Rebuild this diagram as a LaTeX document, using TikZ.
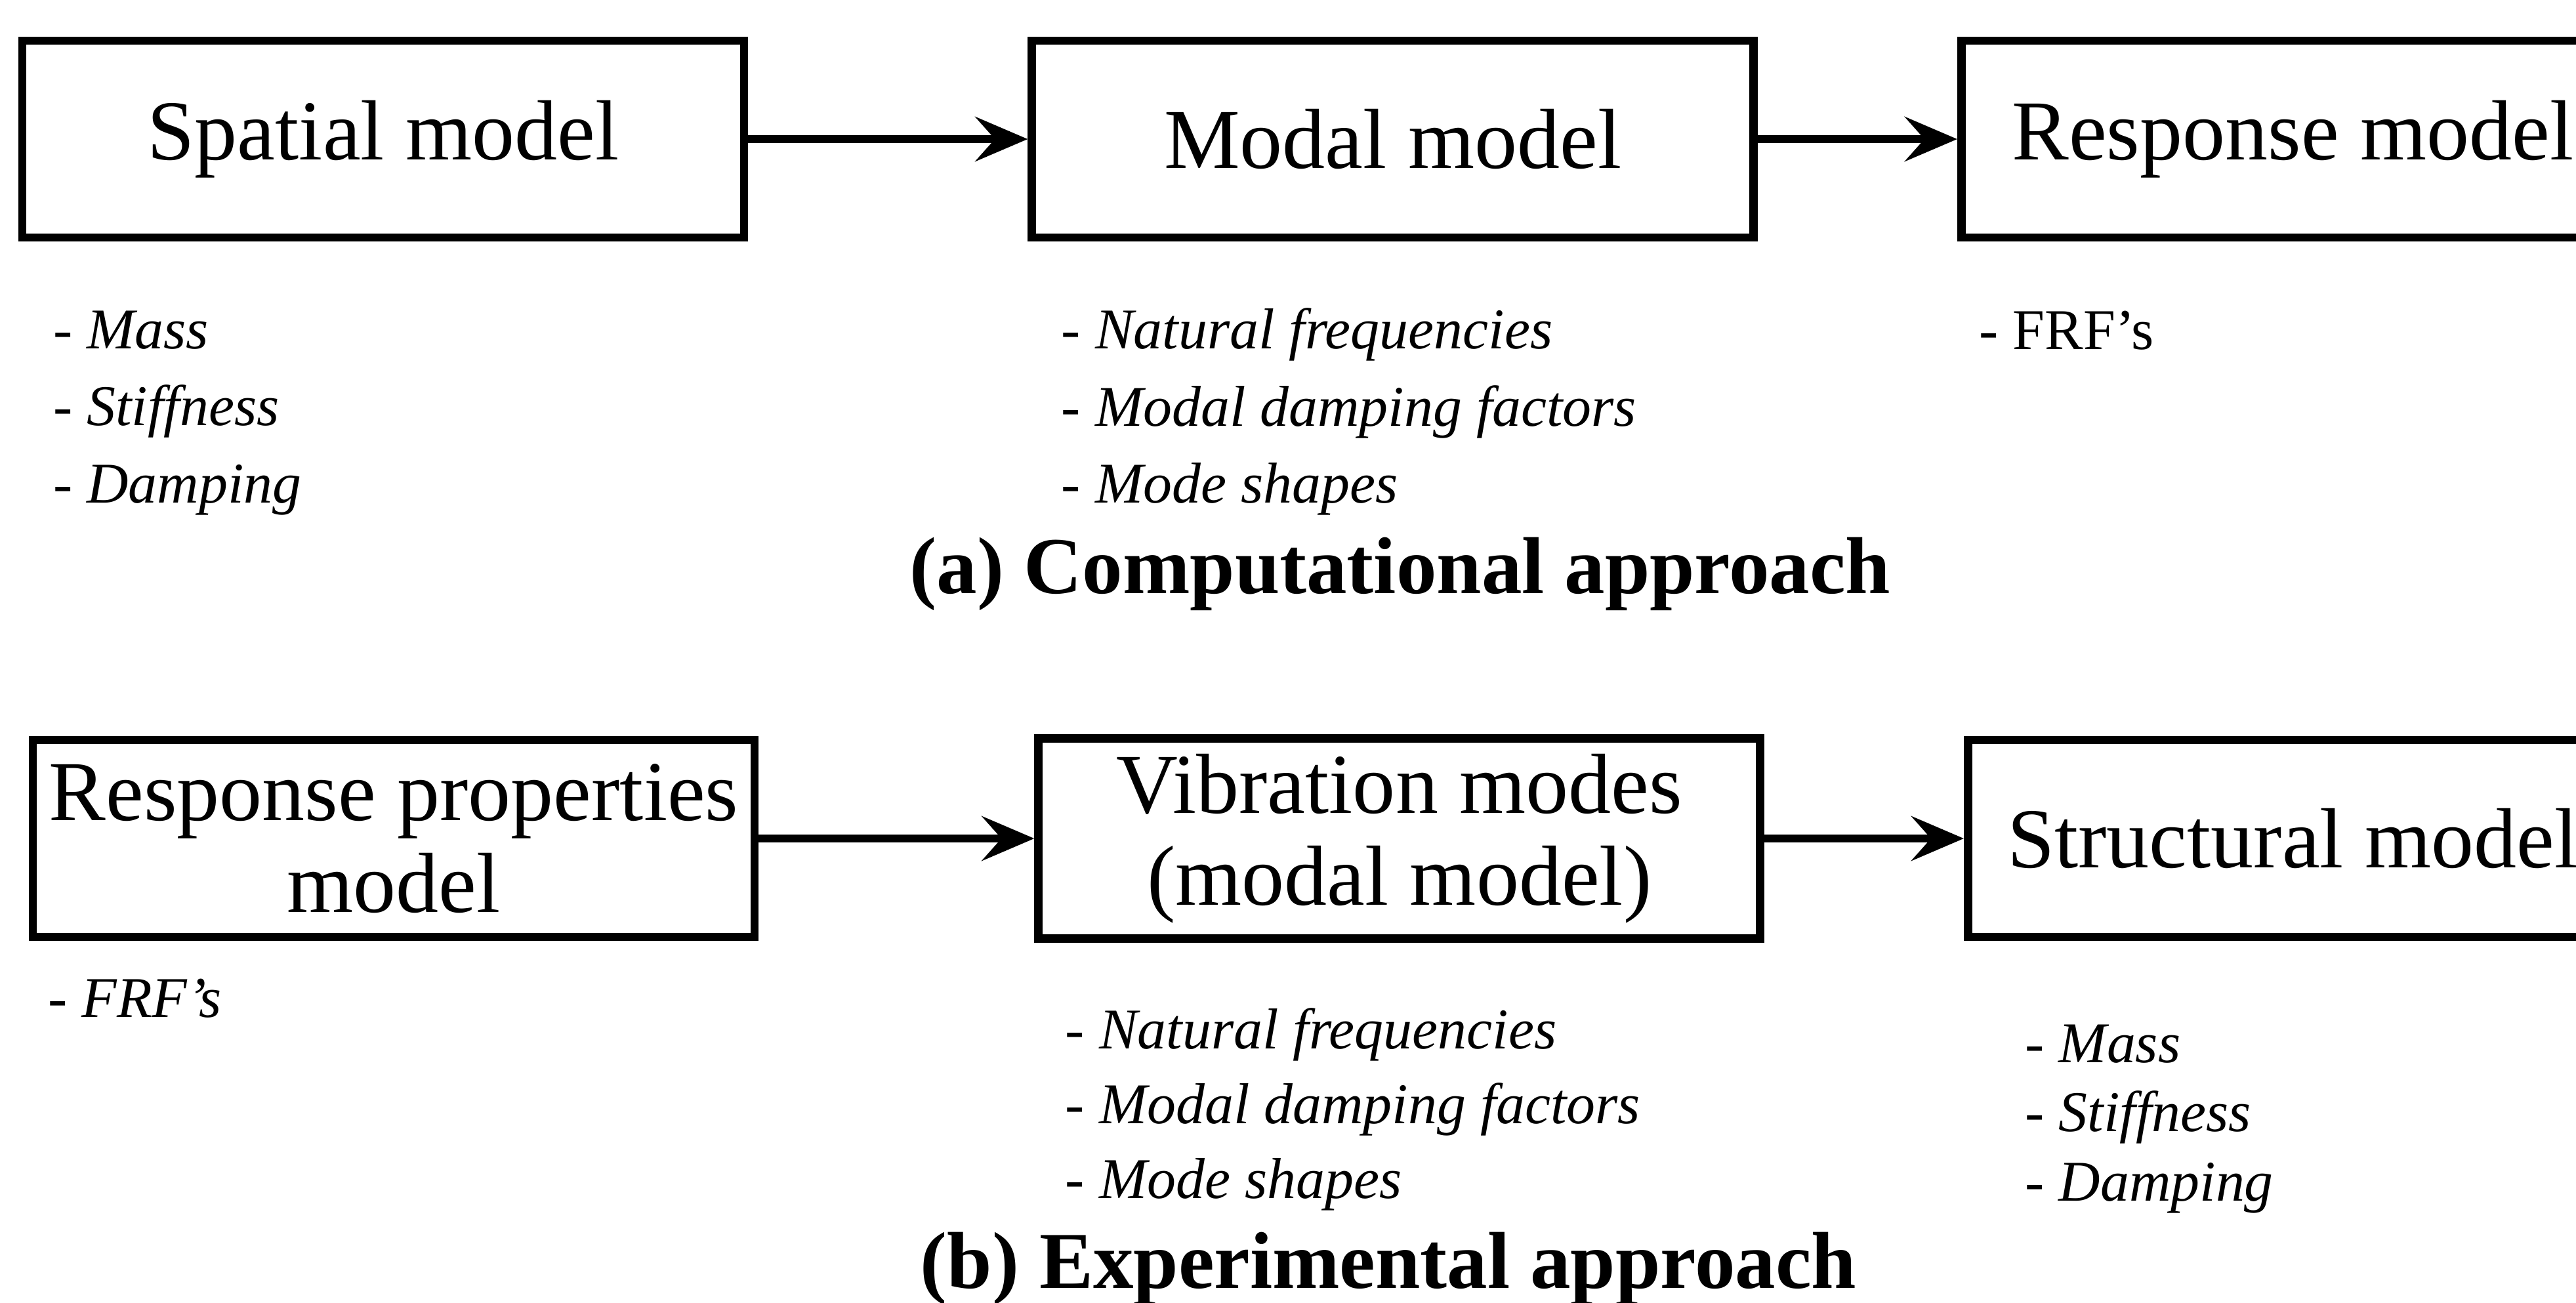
\documentclass[tikz,border=0pt]{standalone}
\usepackage{fontspec}
\setmainfont{Liberation Serif}
\usepackage{tikz}
\tikzstyle{model}=[rectangle,draw=black,line width=1.8pt,minimum width=5.5cm,
minimum height=1.5cm,align=center,font=\fontsize{18.5}{20}\selectfont]
\tikzstyle{items}=[align=left,inner sep=0pt,
font=\fontsize{12.5}{16.7}\selectfont\itshape]
\tikzstyle{caption}=[anchor=base,font=\fontsize{17.5}{20}\selectfont\bfseries]
\usetikzlibrary{arrows.meta,positioning}

\begin{document}
\begin{tikzpicture}[>={Stealth[length=0.4cm,width=0.34cm,inset=0.15cm]},line width=1.6pt]
  		\useasboundingbox (0,0) rectangle (19.63,-9.925);

  		% (a) computational approach
  		\node[model] (a1) at (2.92,-1.06) {Spatial model};
  		\node[model, right=2.13cm of a1] (a2) {Modal model};
  		\node[model, right=1.52cm of a2, minimum width=5.05cm] (a3) {Response model};

  		\node[items, below right=0.50cm and 0.24cm of a1.south west] (la1)
  			{- Mass\\- Stiffness\\- Damping};
  		\node[items, below right=0.48cm and 0.23cm of a2.south west] (la2)
  			{- Natural frequencies\\- Modal damping factors\\- Mode shapes};
  		\node[items, font=\fontsize{12.5}{16.7}\selectfont,
  			below right=0.50cm and 0.14cm of a3.south west] (la3) {- FRF’s};
  		\node[caption] (capa) at (10.67,-4.52) {(a) Computational approach};

  		\path[->] (a1) edge node {} (a2);
  		\path[->] (a2) edge node {} (a3);

  		% (b) experimental approach
  		\node[model] (b1) at (3.0,-6.39) {Response properties\\model};
  		\node[model, right=2.1cm of b1] (b2) {Vibration modes\\(modal model)};
  		\node[model, right=1.52cm of b2, minimum width=4.95cm] (b3) {Structural model};

  		\node[items, below right=0.26cm and 0.12cm of b1.south west] (lb1) {- FRF’s};
  		\node[items, font=\fontsize{12.5}{16.2}\selectfont\itshape,
  			below right=0.47cm and 0.21cm of b2.south west] (lb2)
  			{- Natural frequencies\\- Modal damping factors\\- Mode shapes};
  		\node[items, font=\fontsize{12.5}{15}\selectfont\itshape,
  			below right=0.61cm and 0.44cm of b3.south west] (lb3)
  			{- Mass\\- Stiffness\\- Damping};
  		\node[caption] (capb) at (10.58,-9.815) {(b) Experimental approach};

  		\path[->] (b1) edge node {} (b2);
  		\path[->] (b2) edge node {} (b3);

	\end{tikzpicture}
\end{document}
